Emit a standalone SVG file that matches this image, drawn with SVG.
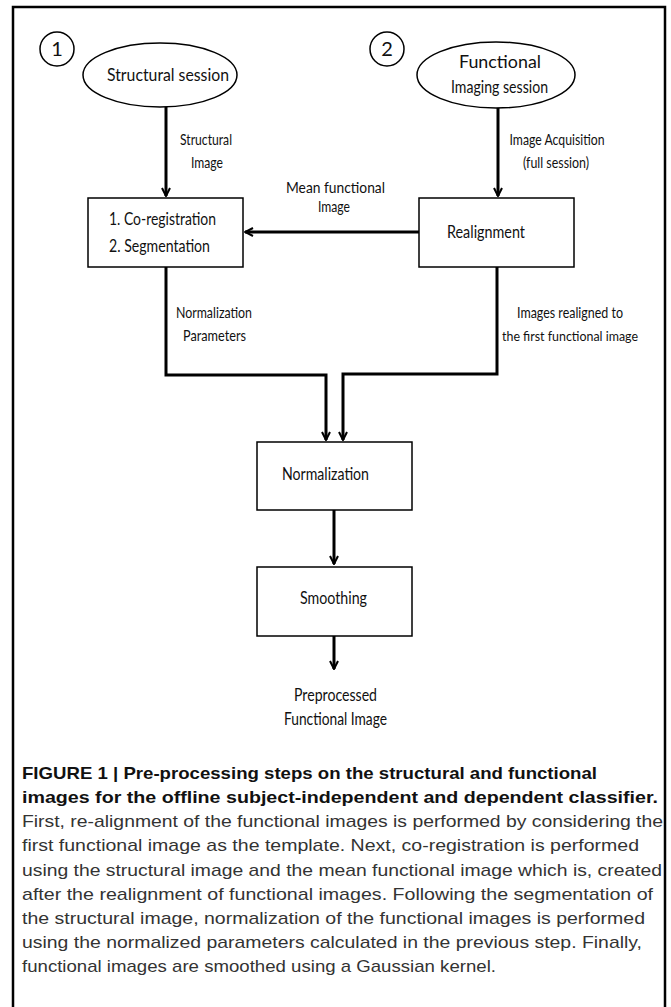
<svg xmlns="http://www.w3.org/2000/svg" width="671" height="1007" viewBox="0 0 671 1007">
<style>
  .frame{fill:#fff;stroke:#000;stroke-width:2.5}
  .node{fill:#fff;stroke:#000;stroke-width:1.5}
  .lbl{font-family:Lato,"Liberation Sans",sans-serif;font-size:16px;fill:#111}
  .nlbl{font-family:Lato,"Liberation Sans",sans-serif;font-size:18px;fill:#111}
  .num{font-size:20px}
  .small{font-size:14px}
  .conn{fill:none;stroke:#000;stroke-width:3}
  .cap{font-family:"Liberation Sans",Arial,sans-serif;font-size:17px;fill:#333}
  .capb{font-family:"Liberation Sans",Arial,sans-serif;font-size:17px;font-weight:bold;fill:#111}
</style>
<defs>
  <marker id="arr" viewBox="0 0 10 10" refX="9" refY="5" markerWidth="10" markerHeight="10" markerUnits="userSpaceOnUse" orient="auto">
    <path d="M1,1 L9,5 L1,9" fill="none" stroke="#000" stroke-width="2"/>
  </marker>
</defs>
<rect class="frame" x="13" y="7" width="652" height="1010"/>

<g id="num1">
  <circle class="node" cx="57" cy="49" r="17"/>
  <text class="nlbl num" x="57" y="56" text-anchor="middle">1</text>
</g>
<g id="num2">
  <circle class="node" cx="387" cy="49" r="17"/>
  <text class="nlbl num" x="387" y="56" text-anchor="middle">2</text>
</g>
<g id="structural-session">
  <ellipse class="node" cx="160" cy="75" rx="77" ry="32"/>
  <text class="nlbl" x="107" y="81" textLength="122" lengthAdjust="spacingAndGlyphs">Structural session</text>
</g>
<g id="functional-session">
  <ellipse class="node" cx="496" cy="75" rx="79" ry="33"/>
  <text class="nlbl" x="459" y="68" textLength="82" lengthAdjust="spacingAndGlyphs">Functional</text>
  <text class="nlbl" x="451" y="93" textLength="97" lengthAdjust="spacingAndGlyphs">Imaging session</text>
</g>
<g id="coreg">
  <rect class="node" x="88" y="198" width="155" height="69"/>
  <text class="nlbl" x="109" y="225" textLength="107" lengthAdjust="spacingAndGlyphs">1. Co-registration</text>
  <text class="nlbl" x="109" y="252" textLength="101" lengthAdjust="spacingAndGlyphs">2. Segmentation</text>
</g>
<g id="realignment">
  <rect class="node" x="419" y="198" width="155" height="69"/>
  <text class="nlbl" x="447" y="238" textLength="78" lengthAdjust="spacingAndGlyphs">Realignment</text>
</g>
<g id="normalization">
  <rect class="node" x="257" y="442" width="155" height="68"/>
  <text class="nlbl" x="282" y="480" textLength="87" lengthAdjust="spacingAndGlyphs">Normalization</text>
</g>
<g id="smoothing">
  <rect class="node" x="257" y="567" width="155" height="69"/>
  <text class="nlbl" x="300" y="604" textLength="67" lengthAdjust="spacingAndGlyphs">Smoothing</text>
</g>
<g id="output">
  <text class="nlbl" x="294" y="701" textLength="83" lengthAdjust="spacingAndGlyphs">Preprocessed</text>
  <text class="nlbl" x="284" y="725" textLength="103" lengthAdjust="spacingAndGlyphs">Functional Image</text>
</g>

<g id="connectors">
  <path class="conn" d="M166,107 V196" marker-end="url(#arr)"/>
  <path class="conn" d="M498,108 V196" marker-end="url(#arr)"/>
  <path class="conn" d="M419,232 H245" marker-end="url(#arr)"/>
  <path class="conn" d="M166,267 V375 H326 V440" marker-end="url(#arr)"/>
  <path class="conn" d="M497,267 V374 H343 V440" marker-end="url(#arr)"/>
  <path class="conn" d="M334,510 V564" marker-end="url(#arr)"/>
  <path class="conn" d="M334,636 V669" marker-end="url(#arr)"/>
  <text class="lbl" x="180" y="145" textLength="52" lengthAdjust="spacingAndGlyphs">Structural</text>
  <text class="lbl" x="191" y="168" textLength="32" lengthAdjust="spacingAndGlyphs">Image</text>
  <text class="lbl" x="557" y="145" text-anchor="middle" textLength="95" lengthAdjust="spacingAndGlyphs">Image Acquisition</text>
  <text class="lbl" x="556" y="168" text-anchor="middle" textLength="66" lengthAdjust="spacingAndGlyphs">(full session)</text>
  <text class="lbl" x="286" y="193" textLength="99" lengthAdjust="spacingAndGlyphs">Mean functional</text>
  <text class="lbl" x="318" y="212" textLength="32" lengthAdjust="spacingAndGlyphs">Image</text>
  <text class="lbl" x="176" y="318" textLength="76" lengthAdjust="spacingAndGlyphs">Normalization</text>
  <text class="lbl" x="183" y="341" textLength="63" lengthAdjust="spacingAndGlyphs">Parameters</text>
  <text class="lbl" x="570" y="318" text-anchor="middle" textLength="106" lengthAdjust="spacingAndGlyphs">Images realigned to</text>
  <text class="lbl small" x="570" y="341" text-anchor="middle" textLength="136" lengthAdjust="spacingAndGlyphs">the first functional image</text>
</g>

<g id="caption">
  <text class="capb" x="22" y="779" textLength="575" lengthAdjust="spacingAndGlyphs">FIGURE 1 | Pre-processing steps on the structural and functional</text>
  <text class="capb" x="22" y="803" textLength="636" lengthAdjust="spacingAndGlyphs">images for the offline subject-independent and dependent classifier.</text>
  <text class="cap" x="22" y="827" textLength="641" lengthAdjust="spacingAndGlyphs">First, re-alignment of the functional images is performed by considering the</text>
  <text class="cap" x="22" y="851" textLength="617" lengthAdjust="spacingAndGlyphs">first functional image as the template. Next, co-registration is performed</text>
  <text class="cap" x="22" y="876" textLength="640" lengthAdjust="spacingAndGlyphs">using the structural image and the mean functional image which is, created</text>
  <text class="cap" x="22" y="900" textLength="631" lengthAdjust="spacingAndGlyphs">after the realignment of functional images. Following the segmentation of</text>
  <text class="cap" x="22" y="924" textLength="623" lengthAdjust="spacingAndGlyphs">the structural image, normalization of the functional images is performed</text>
  <text class="cap" x="22" y="948" textLength="620" lengthAdjust="spacingAndGlyphs">using the normalized parameters calculated in the previous step. Finally,</text>
  <text class="cap" x="22" y="972" textLength="474" lengthAdjust="spacingAndGlyphs">functional images are smoothed using a Gaussian kernel.</text>
</g>
</svg>
